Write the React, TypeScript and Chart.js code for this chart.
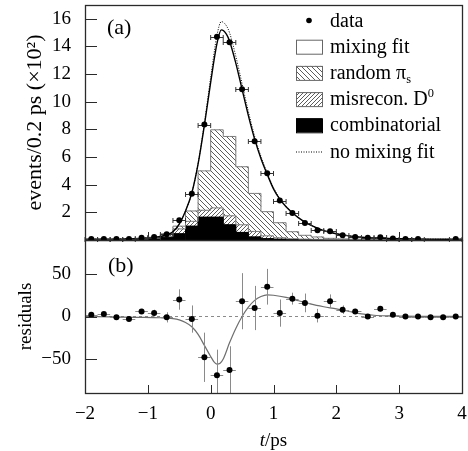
import React, { useEffect, useRef } from "react";
import { Chart, registerables } from "chart.js";

Chart.register(...registerables);

const SERIF = '"Liberation Serif", "Times New Roman", Times, serif';

// ---------- data ----------
const binCenters = [
  -1.9, -1.7, -1.5, -1.3, -1.1, -0.9, -0.7, -0.5, -0.3, -0.1,
  0.1, 0.3, 0.5, 0.7, 0.9, 1.1, 1.3, 1.5, 1.7, 1.9,
  2.1, 2.3, 2.5, 2.7, 2.9, 3.1, 3.3, 3.5, 3.7, 3.9,
];
const binHalfWidth = 0.1;

// events / 0.2 ps (x100)
const dataCounts = [
  0.07, 0.07, 0.07, 0.07, 0.17, 0.22, 0.41, 1.42, 3.35, 8.35,
  14.7, 14.3, 10.9, 7.15, 4.82, 2.85, 1.95, 1.23, 0.7, 0.63,
  0.34, 0.22, 0.17, 0.2, 0.1, 0.07, 0.07, null, null, 0.07,
];
const combinatorial = [
  0.03, 0.03, 0.03, 0.04, 0.06, 0.1, 0.17, 0.45, 1.0, 1.65,
  1.65, 1.1, 0.55, 0.22, 0.1, 0.06, 0.04, 0.03, 0.03, 0.02,
  0.02, 0.02, 0.02, 0.02, 0.02, 0.02, 0.02, 0.02, 0.02, 0.02,
];
const misreconD0 = [
  0.01, 0.01, 0.01, 0.01, 0.02, 0.03, 0.1, 0.35, 0.35, 0.5,
  0.67, 0.65, 0.55, 0.4, 0.2, 0.1, 0.05, 0.03, 0.02, 0.02,
  0.01, 0.01, 0.01, 0.01, 0.01, 0.01, 0.01, 0.01, 0.01, 0.01,
];
const randomPis = [
  0.01, 0.01, 0.01, 0.02, 0.03, 0.07, 0.18, 0.2, 0.75, 2.85,
  5.65, 5.74, 4.2, 2.75, 1.75, 1.09, 0.51, 0.28, 0.17, 0.08,
  0.05, 0.03, 0.02, 0.02, 0.01, 0.01, 0.01, 0.01, 0.01, 0.01,
];

const fitT = [
  -2.0, -1.6, -1.2, -1.0, -0.8, -0.7, -0.6, -0.5, -0.4, -0.3, -0.2, -0.1, 0.0,
  0.1, 0.17, 0.25, 0.3, 0.4, 0.5, 0.6, 0.7, 0.8, 0.9, 1.0, 1.1, 1.2, 1.3,
  1.4, 1.5, 1.6, 1.7, 1.8, 2.0, 2.2, 2.4, 2.7, 3.0, 3.5, 4.0,
];
const mixingFit = [
  0.05, 0.06, 0.1, 0.15, 0.25, 0.38, 0.6, 1.15, 2.1, 3.4, 5.5, 8.3, 11.4,
  14.2, 15.2, 14.9, 14.4, 12.8, 10.9, 9.0, 7.3, 5.9, 4.75, 3.7, 2.95, 2.4, 1.97,
  1.6, 1.3, 1.05, 0.85, 0.68, 0.45, 0.3, 0.2, 0.13, 0.09, 0.06, 0.05,
];
const noMixingFit = [
  0.05, 0.06, 0.1, 0.15, 0.25, 0.38, 0.6, 1.15, 2.1, 3.4, 5.55, 8.45, 11.75,
  14.8, 15.8, 15.5, 15.0, 13.3, 11.3, 9.3, 7.5, 6.05, 4.85, 3.78, 3.0, 2.43, 1.99,
  1.61, 1.31, 1.06, 0.86, 0.69, 0.45, 0.3, 0.2, 0.13, 0.09, 0.06, 0.05,
];

const residuals = [
  2, 3, -1, -3, 6, 4, -1, 20, -3, -48,
  -69, -63, 18, 10, 35, 4, 21, 16, 1, 18,
  8, 6, 0, 9, 2, 0, 0, -1, -1, 0,
];
const residualErrors = [
  1, 1, 1, 1, 3, 4, 6, 12, 16, 29,
  30, 28, 33, 26, 21, 16, 7, 11, 8, 8,
  5, 3, 2, 3, 2, 1, 1, 1, 1, 1,
];
const residFitT = [
  -2.0, -1.6, -1.2, -0.8, -0.6, -0.5, -0.4, -0.3, -0.2, -0.1, 0.0, 0.05, 0.1,
  0.15, 0.2, 0.3, 0.4, 0.5, 0.6, 0.7, 0.8, 0.9, 1.0, 1.2, 1.4, 1.6, 1.8,
  2.0, 2.2, 2.4, 2.6, 2.8, 3.0, 3.5, 4.0,
];
const residFit = [
  0, -0.5, -1, -1.5, -2.5, -4, -7, -12, -21, -34, -47, -53, -56,
  -55, -50, -31, -14, 0, 11, 19, 23.5, 25.5, 25, 22.5, 18.5, 14.5, 11.5,
  9, 6, 3, 1.5, 0.8, 0.5, 0.2, 0,
];

const xRange = [-2, 4];
const topYRange = [0, 17];
const resYRange = [-90, 90];
const xTicks = [-2, -1, 0, 1, 2, 3, 4];
const topYTicks = [2, 4, 6, 8, 10, 12, 14, 16];
const resYTicks = [-50, 0, 50];

const topYTitle = "events/0.2 ps (\u00d710\u00b2)";
const resYTitle = "residuals";
const panelA = "(a)";
const panelB = "(b)";

type Part = { t: string; style?: "sub" | "sup" | "it" };
const legendLabels: Part[][] = [
  [{ t: "data" }],
  [{ t: "mixing fit" }],
  [{ t: "random \u03c0" }, { t: "s", style: "sub" }],
  [{ t: "misrecon. D" }, { t: "0", style: "sup" }],
  [{ t: "combinatorial" }],
  [{ t: "no mixing fit" }],
];
const xTitle: Part[] = [{ t: "t", style: "it" }, { t: "/ps" }];

// ---------- helpers ----------
const FRAME = "#2a2a2a";
const minusFmt = (v: number) => (v < 0 ? "\u2212" + Math.abs(v) : String(v));
const pts = (xs: number[], ys: (number | null)[]) => xs.map((x, i) => ({ x, y: ys[i] }));

function makeHatch(ctx: CanvasRenderingContext2D, dir: "back" | "fwd", s: number) {
  const c = document.createElement("canvas");
  c.width = s;
  c.height = s;
  const g = c.getContext("2d")!;
  g.fillStyle = "#fff";
  g.fillRect(0, 0, s, s);
  g.strokeStyle = "#4a4a4a";
  g.lineWidth = 0.9;
  g.beginPath();
  if (dir === "back") {
    g.moveTo(-1, -1); g.lineTo(s + 1, s + 1);
    g.moveTo(-1, s - 1); g.lineTo(1, s + 1);
    g.moveTo(s - 1, -1); g.lineTo(s + 1, 1);
  } else {
    g.moveTo(-1, s + 1); g.lineTo(s + 1, -1);
    g.moveTo(-1, 1); g.lineTo(1, -1);
    g.moveTo(s - 1, s + 1); g.lineTo(s + 1, s - 1);
  }
  g.stroke();
  return ctx.createPattern(c, "repeat")!;
}

function drawRich(ctx: CanvasRenderingContext2D, parts: Part[], x: number, y: number, size: number, align: "left" | "center" = "left") {
  const fontFor = (p: Part) => {
    const fs = p.style === "sub" || p.style === "sup" ? size * 0.62 : size;
    return `${p.style === "it" ? "italic " : ""}${fs}px ${SERIF}`;
  };
  let total = 0;
  for (const p of parts) { ctx.font = fontFor(p); total += ctx.measureText(p.t).width; }
  let cx = align === "center" ? x - total / 2 : x;
  ctx.textAlign = "left";
  ctx.textBaseline = "alphabetic";
  for (const p of parts) {
    ctx.font = fontFor(p);
    const dy = p.style === "sub" ? size * 0.22 : p.style === "sup" ? -size * 0.4 : 0;
    ctx.fillText(p.t, cx, y + dy);
    cx += ctx.measureText(p.t).width;
  }
}

function drawFrameAndTicks(ctx: CanvasRenderingContext2D, chart: any, yTicks: number[], yKey: string) {
  const a = chart.chartArea;
  const y = chart.scales[yKey];
  ctx.save();
  ctx.strokeStyle = FRAME;
  ctx.lineWidth = 1;
  yTicks.forEach((v) => {
    const py = Math.round(y.getPixelForValue(v)) + 0.5;
    ctx.beginPath();
    ctx.moveTo(a.left, py);
    ctx.lineTo(a.left + 12, py);
    ctx.stroke();
  });
  ctx.lineWidth = 1.3;
  ctx.strokeRect(a.left + 0.5, a.top + 0.5, a.right - a.left, a.bottom - a.top);
  ctx.restore();
}

function drawXTicks(ctx: CanvasRenderingContext2D, chart: any) {
  const a = chart.chartArea;
  const x = chart.scales.x;
  ctx.save();
  ctx.strokeStyle = FRAME;
  ctx.lineWidth = 1;
  xTicks.forEach((v) => {
    const px = Math.round(x.getPixelForValue(v)) + 0.5;
    ctx.beginPath();
    ctx.moveTo(px, a.bottom);
    ctx.lineTo(px, a.bottom - 8);
    ctx.stroke();
  });
  ctx.restore();
}

export default function App() {
  const topRef = useRef<HTMLCanvasElement>(null);
  const botRef = useRef<HTMLCanvasElement>(null);

  useEffect(() => {
    const topCanvas = topRef.current!;
    const botCanvas = botRef.current!;
    const tctx = topCanvas.getContext("2d")!;
    const backHatch = makeHatch(tctx, "back", 5);
    const fwdHatch = makeHatch(tctx, "fwd", 4);

    const cumBlack = combinatorial.map((v) => v);
    const cumMis = combinatorial.map((v, i) => v + misreconD0[i]);
    const cumRand = cumMis.map((v, i) => v + randomPis[i]);

    const tickFont = { family: SERIF, size: 19 };

    const topDecor = {
      id: "topDecor",
      beforeDatasetsDraw(chart: any) {
        drawXTicks(chart.ctx, chart);
      },
      beforeDatasetDraw(chart: any, args: any) {
        if (chart.data.datasets[args.index].label !== "data") return;
        const { ctx } = chart;
        const x = chart.scales.x;
        const y = chart.scales.yl;
        ctx.save();
        ctx.strokeStyle = "#333";
        ctx.lineWidth = 1;
        binCenters.forEach((c, i) => {
          const v = dataCounts[i];
          if (v === null) return;
          const py = Math.round(y.getPixelForValue(v)) + 0.5;
          const x1 = x.getPixelForValue(c - binHalfWidth);
          const x2 = x.getPixelForValue(c + binHalfWidth);
          ctx.beginPath();
          ctx.moveTo(x1, py); ctx.lineTo(x2, py);
          ctx.moveTo(x1, py - 2.5); ctx.lineTo(x1, py + 2.5);
          ctx.moveTo(x2, py - 2.5); ctx.lineTo(x2, py + 2.5);
          ctx.stroke();
        });
        ctx.restore();
      },
      afterDraw(chart: any) {
        const { ctx } = chart;
        drawFrameAndTicks(ctx, chart, topYTicks, "y");
        ctx.save();
        ctx.fillStyle = "#000";
        drawRich(ctx, [{ t: panelA }], 107, 34, 22);
        const swX = 296, swW = 26, swH = 14, txtX = 330, top = 20.5, step = 26.2;
        const kinds = ["dot", "open", "back", "fwd", "solid", "dotted"];
        legendLabels.forEach((parts, i) => {
          const cy = top + step * i;
          const k = kinds[i];
          ctx.save();
          if (k === "dot") {
            ctx.fillStyle = "#000";
            ctx.beginPath();
            ctx.arc(swX + swW / 2, cy, 2.8, 0, Math.PI * 2);
            ctx.fill();
          } else if (k === "dotted") {
            ctx.strokeStyle = "#000";
            ctx.lineWidth = 1;
            ctx.setLineDash([1, 1.5]);
            ctx.beginPath();
            ctx.moveTo(swX, cy + 0.5);
            ctx.lineTo(swX + swW, cy + 0.5);
            ctx.stroke();
          } else {
            ctx.fillStyle = k === "solid" ? "#000" : k === "back" ? backHatch : k === "fwd" ? fwdHatch : "#fff";
            ctx.fillRect(swX, cy - swH / 2, swW, swH);
            ctx.strokeStyle = k === "solid" ? "#000" : "#666";
            ctx.lineWidth = 1;
            ctx.strokeRect(swX + 0.5, cy - swH / 2 + 0.5, swW, swH);
          }
          ctx.restore();
          ctx.fillStyle = "#000";
          drawRich(ctx, parts, txtX, cy + 6, 20);
        });
        ctx.restore();
      },
    };

    const top = new Chart(topCanvas, {
      type: "line",
      data: {
        datasets: [
          {
            label: "data", type: "line", xAxisID: "x", yAxisID: "yl",
            data: pts(binCenters, dataCounts), showLine: false,
            pointRadius: 3, pointBackgroundColor: "#000", pointBorderWidth: 0, order: 0,
          },
          {
            label: "mixing fit", type: "line", xAxisID: "x", yAxisID: "yl",
            data: pts(fitT, mixingFit), borderColor: "#000", borderWidth: 1.4,
            pointRadius: 0, cubicInterpolationMode: "monotone", order: 1,
          },
          {
            label: "no mixing fit", type: "line", xAxisID: "x", yAxisID: "yl",
            data: pts(fitT, noMixingFit), borderColor: "#000", borderWidth: 1,
            borderDash: [1, 1.5], pointRadius: 0, cubicInterpolationMode: "monotone", order: 2,
          },
          {
            label: "random outline", type: "line", xAxisID: "x", yAxisID: "yl",
            data: pts(binCenters, cumRand), stepped: "middle", borderColor: "#7a7a7a",
            borderWidth: 1, pointRadius: 0, order: 3,
          },
          {
            label: "misrecon outline", type: "line", xAxisID: "x", yAxisID: "yl",
            data: pts(binCenters, cumMis), stepped: "middle", borderColor: "#7a7a7a",
            borderWidth: 1, pointRadius: 0, order: 4,
          },
          {
            label: "combinatorial outline", type: "line", xAxisID: "x", yAxisID: "yl",
            data: pts(binCenters, cumBlack), stepped: "middle", borderColor: "#000",
            borderWidth: 1, pointRadius: 0, order: 4.5,
          },
          {
            label: "combinatorial", type: "bar", xAxisID: "x", yAxisID: "y",
            data: pts(binCenters, combinatorial), backgroundColor: "#000",
            borderWidth: 0, barPercentage: 1, categoryPercentage: 1, order: 5,
          },
          {
            label: "misrecon. D0", type: "bar", xAxisID: "x", yAxisID: "y",
            data: pts(binCenters, misreconD0), backgroundColor: fwdHatch,
            borderWidth: 0, barPercentage: 1, categoryPercentage: 1, order: 6,
          },
          {
            label: "random pi_s", type: "bar", xAxisID: "x", yAxisID: "y",
            data: pts(binCenters, randomPis), backgroundColor: backHatch,
            borderWidth: 0, barPercentage: 1, categoryPercentage: 1, order: 7,
          },
        ] as any,
      },
      options: {
        animation: false,
        responsive: false,
        layout: { padding: { left: 0, right: 6, top: 5, bottom: 211 } },
        plugins: { legend: { display: false }, tooltip: { enabled: false } },
        scales: {
          x: {
            type: "linear", min: xRange[0], max: xRange[1], display: false,
            stacked: true, offset: false, grid: { offset: false },
          },
          y: {
            type: "linear", position: "left", min: topYRange[0], max: topYRange[1], stacked: true,
            grid: { display: false, drawTicks: false },
            border: { display: false },
            afterBuildTicks: (s: any) => { s.ticks = topYTicks.map((v) => ({ value: v })); },
            afterFit: (s: any) => { s.width = 85; s.paddingTop = 0; s.paddingBottom = 0; },
            ticks: { font: tickFont, color: "#000", padding: 14, callback: (v: any) => minusFmt(Number(v)) },
            title: {
              display: true, text: topYTitle, color: "#000",
              font: { family: SERIF, size: 22 }, padding: { top: 22, bottom: 0 },
            },
          },
          yl: { type: "linear", min: topYRange[0], max: topYRange[1], display: false },
        },
      } as any,
      plugins: [topDecor],
    });

    const botDecor = {
      id: "botDecor",
      beforeDatasetDraw(chart: any, args: any) {
        if (chart.data.datasets[args.index].label !== "residuals") return;
        const { ctx, chartArea: a } = chart;
        const x = chart.scales.x;
        const y = chart.scales.y;
        ctx.save();
        ctx.beginPath();
        ctx.rect(a.left, a.top, a.right - a.left, a.bottom - a.top);
        ctx.clip();
        ctx.strokeStyle = "#8a8a8a";
        ctx.lineWidth = 1;
        binCenters.forEach((c, i) => {
          const v = residuals[i];
          const e = residualErrors[i];
          const py = y.getPixelForValue(v);
          const px = Math.round(x.getPixelForValue(c)) + 0.5;
          ctx.beginPath();
          ctx.moveTo(x.getPixelForValue(c - binHalfWidth), Math.round(py) + 0.5);
          ctx.lineTo(x.getPixelForValue(c + binHalfWidth), Math.round(py) + 0.5);
          ctx.moveTo(px, y.getPixelForValue(v - e));
          ctx.lineTo(px, y.getPixelForValue(v + e));
          ctx.stroke();
        });
        ctx.restore();
      },
      afterDraw(chart: any) {
        const { ctx } = chart;
        drawXTicks(ctx, chart);
        drawFrameAndTicks(ctx, chart, resYTicks, "y");
        ctx.save();
        ctx.fillStyle = "#000";
        drawRich(ctx, [{ t: panelB }], 108, 272, 22);
        drawRich(ctx, xTitle, (chart.chartArea.left + chart.chartArea.right) / 2, 446, 19, "center");
        ctx.restore();
      },
    };

    const bot = new Chart(botCanvas, {
      type: "line",
      data: {
        datasets: [
          {
            label: "residuals", data: pts(binCenters, residuals), showLine: false,
            pointRadius: 3, pointBackgroundColor: "#000", pointBorderWidth: 0, order: 0,
          },
          {
            label: "residual fit", data: pts(residFitT, residFit), borderColor: "#6e6e6e",
            borderWidth: 1.2, pointRadius: 0, cubicInterpolationMode: "monotone", order: 1,
          },
          {
            label: "zero", data: pts(xRange, [0, 0]), borderColor: "#8a8a8a",
            borderWidth: 1, borderDash: [3, 3], pointRadius: 0, order: 2,
          },
        ] as any,
      },
      options: {
        animation: false,
        responsive: false,
        layout: { padding: { left: 0, right: 6, top: 240, bottom: 0 } },
        plugins: { legend: { display: false }, tooltip: { enabled: false } },
        scales: {
          x: {
            type: "linear", min: xRange[0], max: xRange[1], position: "bottom", offset: false,
            grid: { display: false, drawTicks: false }, border: { display: false },
            afterBuildTicks: (s: any) => { s.ticks = xTicks.map((v) => ({ value: v })); },
            afterFit: (s: any) => { s.height = 58; s.paddingLeft = 0; s.paddingRight = 0; },
            ticks: {
              font: tickFont, color: "#000", padding: 10, maxRotation: 0, autoSkip: false,
              callback: (v: any) => minusFmt(Number(v)),
            },
          },
          y: {
            type: "linear", position: "left", min: resYRange[0], max: resYRange[1],
            grid: { display: false, drawTicks: false }, border: { display: false },
            afterBuildTicks: (s: any) => { s.ticks = resYTicks.map((v) => ({ value: v })); },
            afterFit: (s: any) => { s.width = 85; s.paddingTop = 0; s.paddingBottom = 0; },
            ticks: { font: tickFont, color: "#000", padding: 14, callback: (v: any) => minusFmt(Number(v)) },
            title: {
              display: true, text: resYTitle, color: "#000",
              font: { family: SERIF, size: 19 }, padding: { top: 15, bottom: 0 },
            },
          },
        },
      } as any,
      plugins: [botDecor],
    });

    let alive = true;
    const redraw = () => {
      if (!alive) return;
      top.update();
      bot.update();
    };
    const fontsApi: any = (document as any).fonts;
    if (fontsApi && fontsApi.load) {
      Promise.all([
        fontsApi.load(`19px "Liberation Serif"`),
        fontsApi.load(`italic 19px "Liberation Serif"`),
      ]).then(redraw, redraw);
    }
    const t1 = setTimeout(redraw, 60);

    return () => {
      alive = false;
      clearTimeout(t1);
      top.destroy();
      bot.destroy();
    };
  }, []);

  const cstyle: React.CSSProperties = { position: "absolute", left: 0, top: 0, display: "block" };
  return (
    <div style={{ position: "fixed", left: 0, top: 0, width: 468, height: 451, background: "#fff" }}>
      <canvas ref={botRef} width={468} height={451} style={cstyle} />
      <canvas ref={topRef} width={468} height={451} style={cstyle} />
    </div>
  );
}
